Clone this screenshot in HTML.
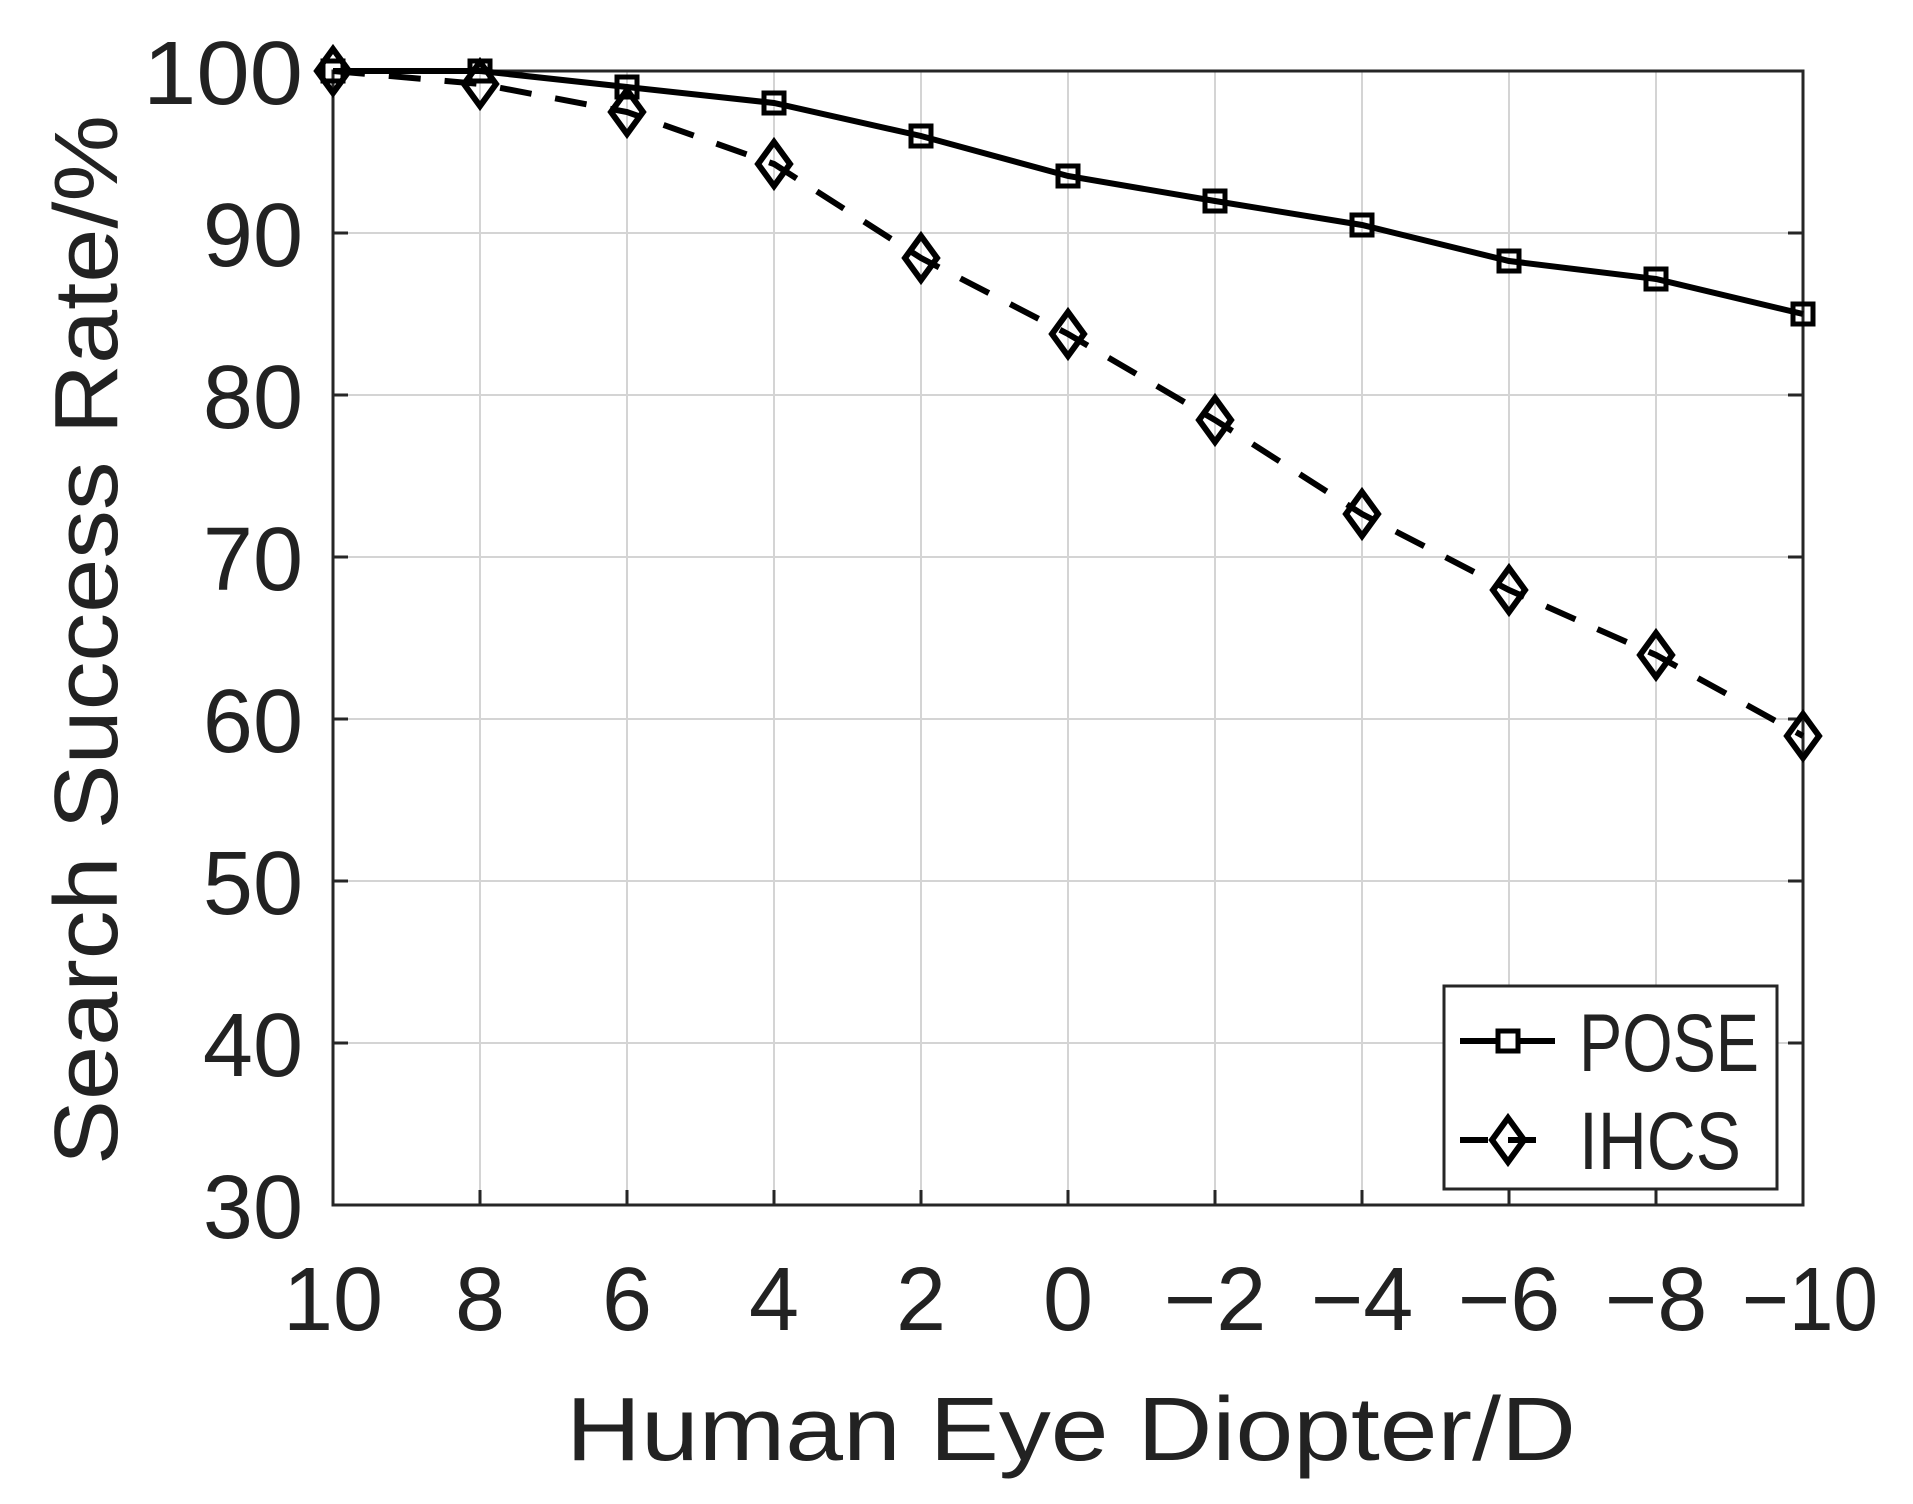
<!DOCTYPE html>
<html><head><style>body{margin:0;background:#fff}svg{display:block}</style></head><body>
<svg width="1913" height="1504" xmlns="http://www.w3.org/2000/svg" font-family="Liberation Sans, DejaVu Sans, sans-serif" fill="#222">
<rect width="1913" height="1504" fill="#fff"/>
<g stroke="#d4d4d4" stroke-width="2">
<line x1="480" y1="71" x2="480" y2="1205"/><line x1="627" y1="71" x2="627" y2="1205"/><line x1="774" y1="71" x2="774" y2="1205"/><line x1="921" y1="71" x2="921" y2="1205"/><line x1="1068" y1="71" x2="1068" y2="1205"/><line x1="1215" y1="71" x2="1215" y2="1205"/><line x1="1362" y1="71" x2="1362" y2="1205"/><line x1="1509" y1="71" x2="1509" y2="1205"/><line x1="1656" y1="71" x2="1656" y2="1205"/>
<line x1="333" y1="233" x2="1803" y2="233"/><line x1="333" y1="395" x2="1803" y2="395"/><line x1="333" y1="557" x2="1803" y2="557"/><line x1="333" y1="719" x2="1803" y2="719"/><line x1="333" y1="881" x2="1803" y2="881"/><line x1="333" y1="1043" x2="1803" y2="1043"/>
</g>
<rect x="333" y="71" width="1470" height="1134" fill="none" stroke="#262626" stroke-width="3"/>
<g stroke="#262626" stroke-width="3">
<line x1="480" y1="1205" x2="480" y2="1190"/><line x1="627" y1="1205" x2="627" y2="1190"/><line x1="774" y1="1205" x2="774" y2="1190"/><line x1="921" y1="1205" x2="921" y2="1190"/><line x1="1068" y1="1205" x2="1068" y2="1190"/><line x1="1215" y1="1205" x2="1215" y2="1190"/><line x1="1362" y1="1205" x2="1362" y2="1190"/><line x1="1509" y1="1205" x2="1509" y2="1190"/><line x1="1656" y1="1205" x2="1656" y2="1190"/>
<line x1="333" y1="233" x2="348" y2="233"/><line x1="333" y1="395" x2="348" y2="395"/><line x1="333" y1="557" x2="348" y2="557"/><line x1="333" y1="719" x2="348" y2="719"/><line x1="333" y1="881" x2="348" y2="881"/><line x1="333" y1="1043" x2="348" y2="1043"/>
<line x1="1803" y1="233" x2="1788" y2="233"/><line x1="1803" y1="395" x2="1788" y2="395"/><line x1="1803" y1="557" x2="1788" y2="557"/><line x1="1803" y1="719" x2="1788" y2="719"/><line x1="1803" y1="881" x2="1788" y2="881"/><line x1="1803" y1="1043" x2="1788" y2="1043"/>
</g>
<g font-size="90" text-anchor="end">
<text x="303" y="104" textLength="160" lengthAdjust="spacingAndGlyphs">100</text><text x="303" y="266">90</text><text x="303" y="428">80</text><text x="303" y="590">70</text><text x="303" y="752">60</text><text x="303" y="914">50</text><text x="303" y="1076">40</text><text x="303" y="1238">30</text>
</g>
<g font-size="90" text-anchor="middle">
<text x="333" y="1330">10</text><text x="480" y="1330">8</text><text x="627" y="1330">6</text><text x="774" y="1330">4</text><text x="921" y="1330">2</text><text x="1068" y="1330">0</text><text x="1215" y="1330">−2</text><text x="1362" y="1330">−4</text><text x="1509" y="1330">−6</text><text x="1656" y="1330">−8</text><text x="1810" y="1330" textLength="136" lengthAdjust="spacingAndGlyphs">−10</text>
</g>
<text x="1071" y="1460" font-size="90" text-anchor="middle" textLength="1010" lengthAdjust="spacingAndGlyphs">Human Eye Diopter/D</text>
<text transform="translate(117,640) rotate(-90)" font-size="90" text-anchor="middle" textLength="1050" lengthAdjust="spacingAndGlyphs">Search Success Rate/%</text>
<polyline fill="none" stroke="#000" stroke-width="6" points="333,71 480,71 627,87 774,103 921,136 1068,176 1215,201 1362,225 1509,261 1656,279 1803,314"/>
<polyline fill="none" stroke="#000" stroke-width="6" stroke-dasharray="32,24" points="333,71 480,84 627,112 774,164 921,258 1068,334 1215,420 1362,514 1509,590 1656,655 1803,736"/>
<g fill="none" stroke="#000" stroke-width="5">
<rect x="323" y="61" width="20" height="20"/><rect x="470" y="61" width="20" height="20"/><rect x="617" y="77" width="20" height="20"/><rect x="764" y="93" width="20" height="20"/><rect x="911" y="126" width="20" height="20"/><rect x="1058" y="166" width="20" height="20"/><rect x="1205" y="191" width="20" height="20"/><rect x="1352" y="215" width="20" height="20"/><rect x="1499" y="251" width="20" height="20"/><rect x="1646" y="269" width="20" height="20"/><rect x="1793" y="304" width="20" height="20"/>
</g>
<g fill="none" stroke="#000" stroke-width="6">
<path d="M333,49 l16,22 l-16,22 l-16,-22z"/><path d="M480,62 l16,22 l-16,22 l-16,-22z"/><path d="M627,90 l16,22 l-16,22 l-16,-22z"/><path d="M774,142 l16,22 l-16,22 l-16,-22z"/><path d="M921,236 l16,22 l-16,22 l-16,-22z"/><path d="M1068,312 l16,22 l-16,22 l-16,-22z"/><path d="M1215,398 l16,22 l-16,22 l-16,-22z"/><path d="M1362,492 l16,22 l-16,22 l-16,-22z"/><path d="M1509,568 l16,22 l-16,22 l-16,-22z"/><path d="M1656,633 l16,22 l-16,22 l-16,-22z"/><path d="M1803,714 l16,22 l-16,22 l-16,-22z"/>
</g>
<rect x="1444" y="986" width="333" height="203" fill="#fff" stroke="#262626" stroke-width="3"/>
<line x1="1460" y1="1041" x2="1555" y2="1041" stroke="#000" stroke-width="6"/>
<rect x="1498" y="1031" width="20" height="20" fill="#fff" stroke="#000" stroke-width="5"/>
<line x1="1460" y1="1140" x2="1555" y2="1140" stroke="#000" stroke-width="6" stroke-dasharray="28,20"/>
<path d="M1508,1118 l16,22 l-16,22 l-16,-22z" fill="none" stroke="#000" stroke-width="6"/>
<g font-size="82"><text x="1579" y="1071" textLength="180" lengthAdjust="spacingAndGlyphs">POSE</text><text x="1579" y="1169" textLength="162" lengthAdjust="spacingAndGlyphs">IHCS</text></g>
</svg>
</body></html>
